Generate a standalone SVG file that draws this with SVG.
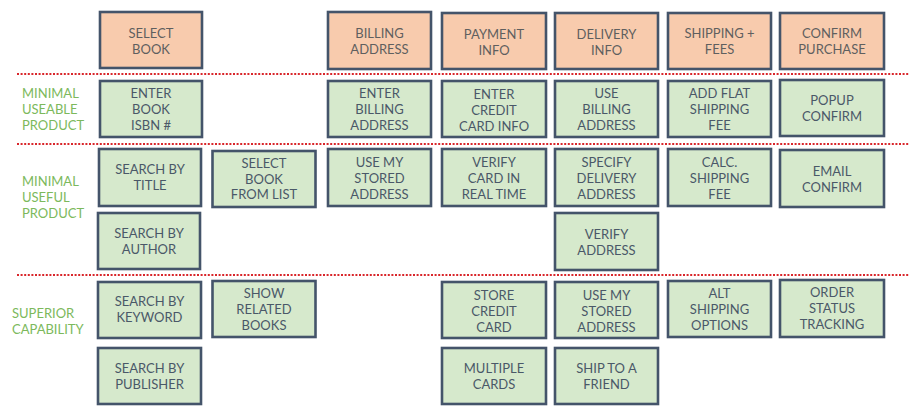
<svg xmlns="http://www.w3.org/2000/svg" width="910" height="406" viewBox="0 0 910 406">
<style>
.h rect{fill:#f8cbad;stroke:#44546a;stroke-width:2.6}
.g rect{fill:#d6e9cc;stroke:#44546a;stroke-width:2.6}
text{font-family:Lato,"Open Sans","Liberation Sans",sans-serif;font-size:13px;text-anchor:middle}
.h text{fill:#5f5f5f}
.g text{fill:#4a5868}
.lbl{fill:#7cb95c;text-anchor:start;font-size:13px}
.sep{stroke:#d9262b;stroke-width:2;stroke-dasharray:2 1.6}
</style>
<rect width="910" height="406" fill="#ffffff"/>
<g id="separators">
<line class="sep" x1="17" y1="74" x2="909" y2="74"/>
<line class="sep" x1="17" y1="144" x2="909" y2="144"/>
<line class="sep" x1="17" y1="275" x2="909" y2="275"/>
</g>
<g id="connectors"/>
<g id="row-labels">
<text class="lbl" x="22" y="98">MINIMAL<tspan x="22" y="114">USEABLE</tspan><tspan x="22" y="129.5">PRODUCT</tspan></text>
<text class="lbl" x="22" y="186">MINIMAL<tspan x="22" y="202">USEFUL</tspan><tspan x="22" y="217.5">PRODUCT</tspan></text>
<text class="lbl" x="12" y="317.5">SUPERIOR<tspan x="12" y="333.5">CAPABILITY</tspan></text>
</g>
<!-- headers -->
<g id="n-select-book" class="h"><rect x="100" y="12" width="102" height="56"/><text x="151" y="38">SELECT<tspan x="151" y="54">BOOK</tspan></text></g>
<g id="n-billing-address" class="h"><rect x="328" y="12" width="103" height="57"/><text x="379.5" y="38">BILLING<tspan x="379.5" y="54">ADDRESS</tspan></text></g>
<g id="n-payment-info" class="h"><rect x="442" y="13" width="104" height="56"/><text x="494" y="39">PAYMENT<tspan x="494" y="55">INFO</tspan></text></g>
<g id="n-delivery-info" class="h"><rect x="555" y="13" width="103" height="56"/><text x="606.5" y="39">DELIVERY<tspan x="606.5" y="55">INFO</tspan></text></g>
<g id="n-shipping-fees" class="h"><rect x="668" y="13" width="103" height="56"/><text x="719.5" y="38">SHIPPING +<tspan x="719.5" y="54">FEES</tspan></text></g>
<g id="n-confirm-purchase" class="h"><rect x="780" y="13" width="104" height="56"/><text x="832" y="38">CONFIRM<tspan x="832" y="54">PURCHASE</tspan></text></g>
<!-- minimal useable -->
<g id="n-enter-isbn" class="g"><rect x="100" y="81" width="102" height="56"/><text x="151" y="98">ENTER<tspan x="151" y="114">BOOK</tspan><tspan x="151" y="129.5">ISBN #</tspan></text></g>
<g id="n-enter-billing" class="g"><rect x="328" y="81" width="103" height="56"/><text x="379.5" y="98">ENTER<tspan x="379.5" y="114">BILLING</tspan><tspan x="379.5" y="129.5">ADDRESS</tspan></text></g>
<g id="n-enter-credit" class="g"><rect x="442" y="81" width="104" height="56"/><text x="494" y="99">ENTER<tspan x="494" y="115">CREDIT</tspan><tspan x="494" y="130.5">CARD INFO</tspan></text></g>
<g id="n-use-billing" class="g"><rect x="555" y="81" width="103" height="56"/><text x="606.5" y="98">USE<tspan x="606.5" y="114">BILLING</tspan><tspan x="606.5" y="129.5">ADDRESS</tspan></text></g>
<g id="n-add-flat" class="g"><rect x="668" y="81" width="103" height="56"/><text x="719.5" y="98">ADD FLAT<tspan x="719.5" y="114">SHIPPING</tspan><tspan x="719.5" y="129.5">FEE</tspan></text></g>
<g id="n-popup-confirm" class="g"><rect x="780" y="80" width="104" height="56"/><text x="832" y="105">POPUP<tspan x="832" y="121">CONFIRM</tspan></text></g>
<!-- minimal useful -->
<g id="n-search-title" class="g"><rect x="99" y="149" width="102" height="57"/><text x="150" y="174">SEARCH BY<tspan x="150" y="190">TITLE</tspan></text></g>
<g id="n-select-from-list" class="g"><rect x="212.5" y="151" width="103" height="56"/><text x="264" y="167.5">SELECT<tspan x="264" y="183.5">BOOK</tspan><tspan x="264" y="199">FROM LIST</tspan></text></g>
<g id="n-use-stored-1" class="g"><rect x="328" y="149" width="103" height="57"/><text x="379.5" y="167">USE MY<tspan x="379.5" y="183">STORED</tspan><tspan x="379.5" y="198.5">ADDRESS</tspan></text></g>
<g id="n-verify-card" class="g"><rect x="442" y="149" width="104" height="57"/><text x="494" y="167">VERIFY<tspan x="494" y="183">CARD IN</tspan><tspan x="494" y="198.5">REAL TIME</tspan></text></g>
<g id="n-specify-delivery" class="g"><rect x="555" y="149" width="103" height="57"/><text x="606.5" y="167">SPECIFY<tspan x="606.5" y="183">DELIVERY</tspan><tspan x="606.5" y="198.5">ADDRESS</tspan></text></g>
<g id="n-calc-shipping" class="g"><rect x="668" y="149" width="103" height="57"/><text x="719.5" y="167">CALC.<tspan x="719.5" y="183">SHIPPING</tspan><tspan x="719.5" y="198.5">FEE</tspan></text></g>
<g id="n-email-confirm" class="g"><rect x="780" y="150" width="104" height="57"/><text x="832" y="176">EMAIL<tspan x="832" y="192">CONFIRM</tspan></text></g>
<g id="n-search-author" class="g"><rect x="98" y="213" width="102" height="56"/><text x="149" y="238">SEARCH BY<tspan x="149" y="254">AUTHOR</tspan></text></g>
<g id="n-verify-address" class="g"><rect x="555" y="213" width="103" height="57"/><text x="606.5" y="238.5">VERIFY<tspan x="606.5" y="254.5">ADDRESS</tspan></text></g>
<!-- superior -->
<g id="n-search-keyword" class="g"><rect x="98" y="282" width="103" height="56"/><text x="149.5" y="306">SEARCH BY<tspan x="149.5" y="322">KEYWORD</tspan></text></g>
<g id="n-show-related" class="g"><rect x="212.5" y="281" width="103" height="56"/><text x="264" y="298">SHOW<tspan x="264" y="314">RELATED</tspan><tspan x="264" y="329.5">BOOKS</tspan></text></g>
<g id="n-store-credit" class="g"><rect x="442" y="282" width="104" height="56"/><text x="494" y="300">STORE<tspan x="494" y="316">CREDIT</tspan><tspan x="494" y="331.5">CARD</tspan></text></g>
<g id="n-use-stored-2" class="g"><rect x="555" y="282" width="103" height="56"/><text x="606.5" y="300">USE MY<tspan x="606.5" y="316">STORED</tspan><tspan x="606.5" y="331.5">ADDRESS</tspan></text></g>
<g id="n-alt-shipping" class="g"><rect x="668" y="281" width="103" height="56"/><text x="719.5" y="298">ALT<tspan x="719.5" y="314">SHIPPING</tspan><tspan x="719.5" y="329.5">OPTIONS</tspan></text></g>
<g id="n-order-status" class="g"><rect x="780" y="280" width="104" height="57"/><text x="832" y="297">ORDER<tspan x="832" y="313">STATUS</tspan><tspan x="832" y="328.5">TRACKING</tspan></text></g>
<g id="n-search-publisher" class="g"><rect x="98" y="348" width="103" height="56"/><text x="149.5" y="373">SEARCH BY<tspan x="149.5" y="389">PUBLISHER</tspan></text></g>
<g id="n-multiple-cards" class="g"><rect x="442" y="348" width="104" height="56"/><text x="494" y="373">MULTIPLE<tspan x="494" y="389">CARDS</tspan></text></g>
<g id="n-ship-friend" class="g"><rect x="555" y="348" width="103" height="56"/><text x="606.5" y="373">SHIP TO A<tspan x="606.5" y="389">FRIEND</tspan></text></g>
</svg>
